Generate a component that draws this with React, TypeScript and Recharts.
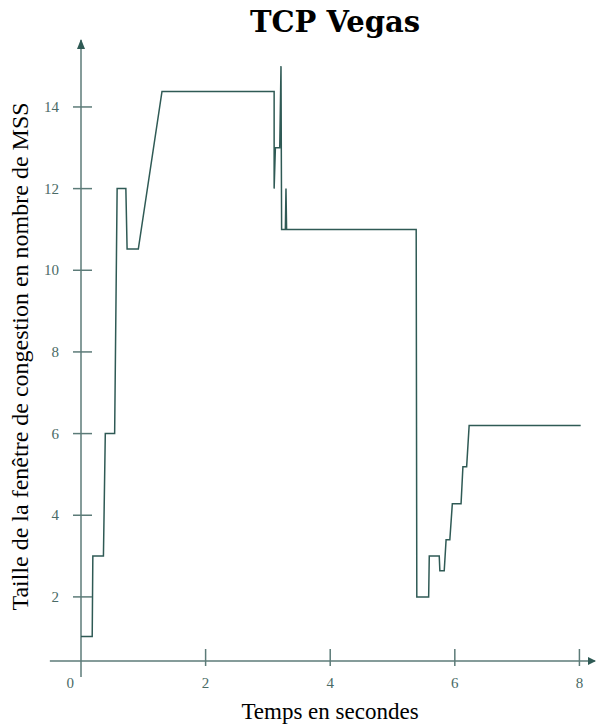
import React from 'react';
import { LineChart, Line, XAxis, YAxis, ReferenceLine, Label } from 'recharts';

// temps (s) et fenêtre de congestion (MSS)
const temps = [
  0, 0.18, 0.19, 0.36, 0.39, 0.54, 0.58, 0.72, 0.74, 0.92, 1.3, 3.1, 3.1, 3.12, 3.19, 3.21,
  3.22, 3.28, 3.29, 3.3, 5.38, 5.39, 5.58, 5.59, 5.75, 5.76, 5.83, 5.86, 5.92, 5.96, 6.1,
  6.13, 6.19, 6.23, 8.02,
];
const fenetre = [
  1.03, 1.03, 3.0, 3.0, 6.0, 6.0, 12.0, 12.0, 10.52, 10.52, 14.38, 14.38, 12.0, 13.0, 13.0, 15.0,
  11.0, 11.0, 12.0, 11.0, 11.0, 2.0, 2.0, 3.0, 3.0, 2.64, 2.64, 3.4, 3.4, 4.28, 4.28,
  5.19, 5.19, 6.2, 6.2,
];
const xTicks = [0, 2, 4, 6, 8];
const yTicks = [2, 4, 6, 8, 10, 12, 14];

const data = temps.map((t, i) => ({ t, w: fenetre[i] }));

const AXIS = '#5c7b78';
const LINE = '#2f5a55';
const TEXT = '#4a6a66';
const SERIF = '"Liberation Serif", "Times New Roman", serif';

const XTick = (props: any) => {
  const { x, y, payload } = props;
  const isZero = payload.value === 0;
  return (
    <g>
      {!isZero && <line x1={x} x2={x} y1={y - 12} y2={y + 5} stroke={AXIS} strokeWidth={1.5} />}
      <text
        x={isZero ? x - 7 : x}
        y={y + 27}
        textAnchor={isZero ? 'end' : 'middle'}
        fill={TEXT}
        fontSize={15}
        fontFamily={SERIF}
      >
        {payload.value}
      </text>
    </g>
  );
};

const YTick = (props: any) => {
  const { x, y, payload } = props;
  return (
    <g>
      <line x1={x - 8} x2={x + 11} y1={y} y2={y} stroke={AXIS} strokeWidth={1.5} />
      <text x={x - 22} y={y + 5} textAnchor="end" fill={TEXT} fontSize={15} fontFamily={SERIF}>
        {payload.value}
      </text>
    </g>
  );
};

const ArrowX = (props: any) => {
  const { x1, y1, x2, y2 } = props;
  return (
    <g>
      <line x1={x1} y1={y1} x2={x2} y2={y2} stroke={AXIS} strokeWidth={1.5} />
      <polygon points={`${x2 + 1},${y2} ${x2 - 7},${y2 - 4} ${x2 - 7},${y2 + 4}`} fill={LINE} />
    </g>
  );
};

const ArrowY = (props: any) => {
  const { x1, y1, x2, y2 } = props;
  const topY = Math.min(y1, y2);
  return (
    <g>
      <line x1={x1} y1={y1} x2={x2} y2={y2} stroke={AXIS} strokeWidth={1.5} />
      <polygon points={`${x1},${topY - 1} ${x1 - 4},${topY + 9} ${x1 + 4},${topY + 9}`} fill={LINE} />
    </g>
  );
};

export default function App() {
  return (
    <div style={{ position: 'absolute', left: 0, top: 0, width: 596, height: 726, background: '#fff' }}>
      <div
        style={{
          position: 'absolute',
          left: 215,
          width: 240,
          top: 5,
          textAlign: 'center',
          fontFamily: '"DejaVu Serif", serif',
          fontWeight: 'bold',
          fontSize: 29,
          lineHeight: '34px',
          color: '#000',
          whiteSpace: 'nowrap',
        }}
      >
        TCP Vegas
      </div>
      <LineChart width={596} height={726} data={data} margin={{ top: 40, right: 1, left: 0, bottom: 5 }}>
        <XAxis
          type="number"
          dataKey="t"
          domain={[0, 8.25]}
          ticks={xTicks}
          allowDataOverflow
          axisLine={false}
          tickLine={false}
          tickSize={0}
          tickMargin={0}
          tick={<XTick />}
          height={60}
        >
          <Label
            content={(p: any) => {
              const vb = p.viewBox;
              return (
                <text x={vb.x + vb.width / 2 - 8} y={vb.y + 58} textAnchor="middle" fontSize={23} fontFamily={SERIF} fill="#000">
                  Temps en secondes
                </text>
              );
            }}
          />
        </XAxis>
        <YAxis
          type="number"
          domain={[0.43, 15.64]}
          ticks={yTicks}
          allowDataOverflow
          axisLine={false}
          tickLine={false}
          tickSize={0}
          tickMargin={0}
          tick={<YTick />}
          width={81}
        >
          <Label
            content={(p: any) => {
              const vb = p.viewBox;
              const cx = 28;
              const cy = vb.y + vb.height / 2 + 6;
              return (
                <text
                  x={cx}
                  y={cy}
                  transform={`rotate(-90, ${cx}, ${cy})`}
                  textAnchor="middle"
                  fontSize={24}
                  fontFamily={SERIF}
                  fill="#000"
                >
                  Taille de la fenêtre de congestion en nombre de MSS
                </text>
              );
            }}
          />
        </YAxis>
        <ReferenceLine
          segment={[{ x: -0.5, y: 0.43 }, { x: 8.25, y: 0.43 }]}
          ifOverflow="visible"
          shape={<ArrowX />}
        />
        <ReferenceLine
          segment={[{ x: 0, y: 0.04 }, { x: 0, y: 15.64 }]}
          ifOverflow="visible"
          shape={<ArrowY />}
        />
        <Line
          type="linear"
          dataKey="w"
          stroke={LINE}
          strokeWidth={1.5}
          dot={false}
          isAnimationActive={false}
        />
      </LineChart>
    </div>
  );
}
